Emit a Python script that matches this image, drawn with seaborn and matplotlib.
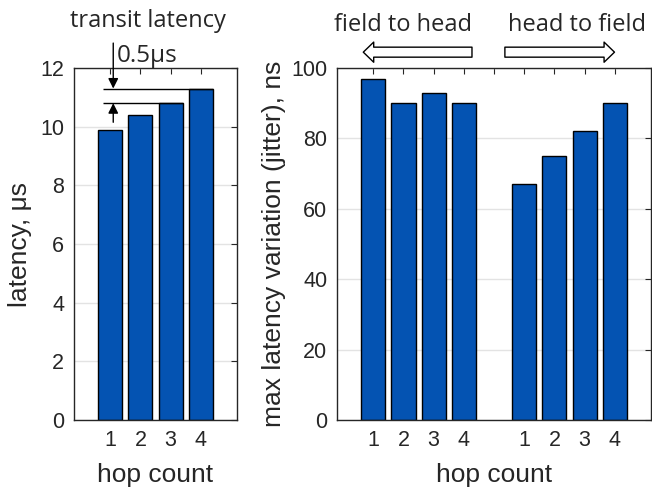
import matplotlib.pyplot as plt
import seaborn as sns

hops = [1, 2, 3, 4]
latency_us = [9.9, 10.4, 10.8, 11.3]
jitter_field_to_head = [97, 90, 93, 90]
jitter_head_to_field = [67, 75, 82, 90]

bar_color = "#0453B2"
tick_font = ["Liberation Sans", "DejaVu Sans"]
note_font = ["Open Sans", "DejaVu Sans"]

sns.set_style("white")
plt.rcParams["font.family"] = tick_font
plt.rcParams["axes.edgecolor"] = "#262626"
plt.rcParams["xtick.color"] = "#262626"
plt.rcParams["ytick.color"] = "#262626"

fig = plt.figure(figsize=(6.52, 4.91), dpi=100)
ax1 = fig.add_axes([0.1135, 0.1446, 0.25, 0.7169])
ax2 = fig.add_axes([0.5169, 0.1446, 0.4816, 0.7169])


def style_axes(ax):
    ax.set_axisbelow(True)
    ax.yaxis.grid(True, color="#e3e3e3", lw=1)
    for s in ax.spines.values():
        s.set_linewidth(1)
        s.set_color("#262626")
    ax.tick_params(direction="in", length=4, width=0.8, top=True, right=True,
                   labelsize=15.5, pad=7)


# left panel: transit latency
sns.barplot(x=hops, y=latency_us, ax=ax1, native_scale=True, width=0.8,
            color=bar_color, saturation=1, edgecolor="black", linewidth=1)
ax1.set_xlim(-0.2, 5.2)
ax1.set_ylim(0, 12)
ax1.set_xticks(hops)
ax1.set_xticklabels([str(h) for h in hops])
ax1.set_yticks(range(0, 13, 2))
style_axes(ax1)
ax1.set_ylabel("latency, μs", fontsize=19, labelpad=6)
ax1.set_xlabel("hop count", fontsize=19, labelpad=9)

# 0.5 us step marker
ax1.hlines(latency_us[3], 0.77, hops[3] + 0.4, color="black", lw=1)
ax1.hlines(latency_us[2], 0.77, hops[2] + 0.4, color="black", lw=1)
ax1.annotate("", xy=(1.1, latency_us[3]), xytext=(1.1, 12.85),
             annotation_clip=False,
             arrowprops=dict(arrowstyle="-|>", color="black", lw=1,
                             mutation_scale=15, shrinkA=0, shrinkB=0))
ax1.annotate("", xy=(1.1, latency_us[2]), xytext=(1.1, 10.15),
             annotation_clip=False,
             arrowprops=dict(arrowstyle="-|>", color="black", lw=1,
                             mutation_scale=15, shrinkA=0, shrinkB=0))
ax1.text(1.2, 12.42, "0.5μs", fontsize=17.5, family=note_font,
         ha="left", va="center")
fig.text(0.227, 0.958, "transit latency", fontsize=17, family=note_font,
         ha="center", va="center")

# right panel: jitter
positions = hops + [h + 5 for h in hops]
sns.barplot(x=positions, y=jitter_field_to_head + jitter_head_to_field, ax=ax2,
            native_scale=True, width=0.8, color=bar_color, saturation=1,
            edgecolor="black", linewidth=1)
ax2.set_xlim(-0.2, 10.2)
ax2.set_ylim(0, 100)
ax2.set_xticks(range(1, 10))
ax2.set_xticklabels([str(h) for h in hops] + [""] + [str(h) for h in hops])
ax2.set_yticks(range(0, 101, 20))
style_axes(ax2)
ax2.set_ylabel("max latency variation (jitter), ns", fontsize=19, labelpad=4)
ax2.set_xlabel("hop count", fontsize=19, labelpad=9)

arrow_style = "simple,head_length=0.75,head_width=1.45,tail_width=0.72"
ax2.annotate("", xy=(0.67, 104.5), xytext=(4.27, 104.5), annotation_clip=False,
             arrowprops=dict(arrowstyle=arrow_style, fc="white", ec="black",
                             lw=1, mutation_scale=10, shrinkA=0, shrinkB=0))
ax2.annotate("", xy=(8.99, 104.5), xytext=(5.36, 104.5), annotation_clip=False,
             arrowprops=dict(arrowstyle=arrow_style, fc="white", ec="black",
                             lw=1, mutation_scale=10, shrinkA=0, shrinkB=0))
ax2.text(2.0, 112.2, "field to head", fontsize=17, family=note_font,
         ha="center", va="center")
ax2.text(7.75, 112.2, "head to field", fontsize=17, family=note_font,
         ha="center", va="center")

fig.savefig("out.png", dpi=100)
